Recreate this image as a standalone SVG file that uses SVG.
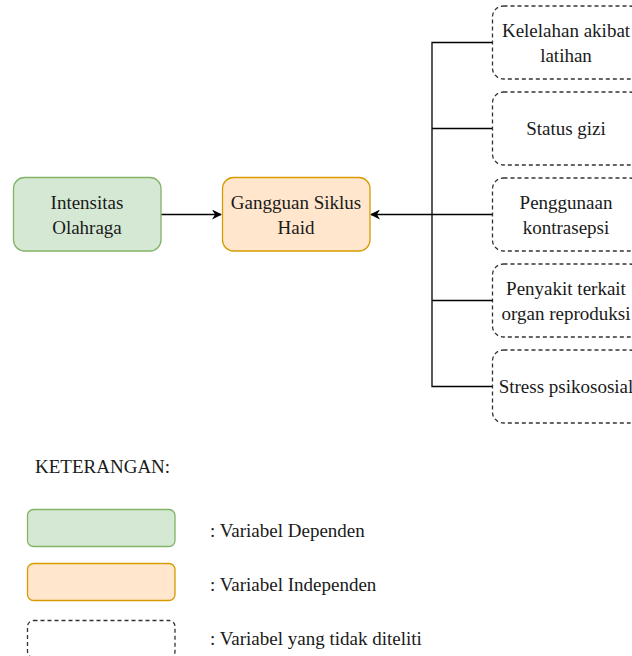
<svg xmlns="http://www.w3.org/2000/svg" width="632" height="656" viewBox="0 0 632 656">
<style>
.dep{fill:#d5e8d4;stroke:#82b366;stroke-width:1.3}
.ind{fill:#ffe6cc;stroke:#d79b00;stroke-width:1.3}
.nr{fill:#ffffff;stroke:#333333;stroke-width:1.3;stroke-dasharray:4 3}
.ln{fill:none;stroke:#000000;stroke-width:1.3}
</style>
<defs>
<marker id="arr" viewBox="0 0 10 10" refX="9" refY="5" markerWidth="10" markerHeight="10" markerUnits="userSpaceOnUse" orient="auto">
<path d="M0,0 L10,5 L0,10 L3,5 Z" fill="#000"/>
</marker>
</defs>
<g id="connectors">
<path class="ln" d="M161,214.5 H221" marker-end="url(#arr)"/>
<path class="ln" d="M492,214.5 H371" marker-end="url(#arr)"/>
<path class="ln" d="M492,42.5 H432 V386.5 H492"/>
<path class="ln" d="M492,128.5 H432"/>
<path class="ln" d="M492,300.5 H432"/>
</g>
<g id="intensitas">
<rect class="dep" x="13.5" y="177.5" width="147.5" height="73.5" rx="11"/>
<text text-anchor="middle" fill="#1a1a1a" font-size="19" font-family="'Liberation Serif', serif" x="87" y="209">Intensitas</text>
<text text-anchor="middle" fill="#1a1a1a" font-size="19" font-family="'Liberation Serif', serif" x="87" y="234">Olahraga</text>
</g>
<g id="gangguan">
<rect class="ind" x="222.5" y="177.5" width="147.5" height="73.5" rx="11"/>
<text text-anchor="middle" fill="#1a1a1a" font-size="19" font-family="'Liberation Serif', serif" x="296" y="209">Gangguan Siklus</text>
<text text-anchor="middle" fill="#1a1a1a" font-size="19" font-family="'Liberation Serif', serif" x="296" y="234">Haid</text>
</g>
<g id="kelelahan">
<rect class="nr" x="492.5" y="6" width="148" height="73" rx="11"/>
<text text-anchor="middle" fill="#1a1a1a" font-size="19" font-family="'Liberation Serif', serif" x="566" y="37">Kelelahan akibat</text>
<text text-anchor="middle" fill="#1a1a1a" font-size="19" font-family="'Liberation Serif', serif" x="566" y="62">latihan</text>
</g>
<g id="gizi">
<rect class="nr" x="492.5" y="92" width="148" height="73" rx="11"/>
<text text-anchor="middle" fill="#1a1a1a" font-size="19" font-family="'Liberation Serif', serif" x="566" y="135">Status gizi</text>
</g>
<g id="kontrasepsi">
<rect class="nr" x="492.5" y="178" width="148" height="73" rx="11"/>
<text text-anchor="middle" fill="#1a1a1a" font-size="19" font-family="'Liberation Serif', serif" x="566" y="209">Penggunaan</text>
<text text-anchor="middle" fill="#1a1a1a" font-size="19" font-family="'Liberation Serif', serif" x="566" y="234">kontrasepsi</text>
</g>
<g id="penyakit">
<rect class="nr" x="492.5" y="264" width="148" height="73" rx="11"/>
<text text-anchor="middle" fill="#1a1a1a" font-size="19" font-family="'Liberation Serif', serif" x="566" y="295">Penyakit terkait</text>
<text text-anchor="middle" fill="#1a1a1a" font-size="19" font-family="'Liberation Serif', serif" x="566" y="320">organ reproduksi</text>
</g>
<g id="stress">
<rect class="nr" x="492.5" y="350" width="148" height="73" rx="11"/>
<text text-anchor="middle" fill="#1a1a1a" font-size="19" font-family="'Liberation Serif', serif" x="566" y="393">Stress psikososial</text>
</g>
<g id="legend">
<text fill="#1a1a1a" font-size="19" font-family="'Liberation Serif', serif" x="35" y="473">KETERANGAN:</text>
<rect class="dep" x="27.5" y="509.5" width="147.5" height="37" rx="6"/>
<text fill="#1a1a1a" font-size="19" font-family="'Liberation Serif', serif" x="210" y="537">: Variabel Dependen</text>
<rect class="ind" x="27.5" y="563.5" width="147.5" height="37" rx="6"/>
<text fill="#1a1a1a" font-size="19" font-family="'Liberation Serif', serif" x="210" y="591">: Variabel Independen</text>
<rect class="nr" x="27.5" y="620.5" width="147.5" height="37" rx="6"/>
<text fill="#1a1a1a" font-size="19" font-family="'Liberation Serif', serif" x="210" y="645">: Variabel yang tidak diteliti</text>
</g>
</svg>
